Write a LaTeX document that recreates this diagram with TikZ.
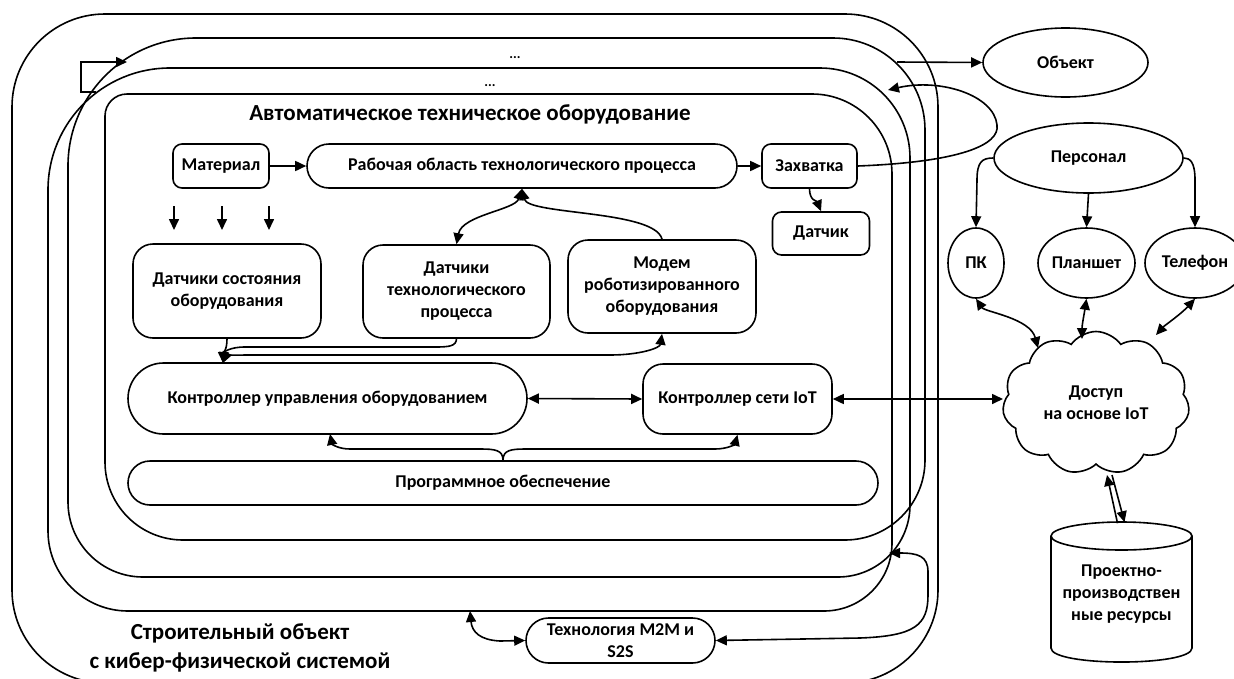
\documentclass[tikz,border=0pt]{standalone}
\usepackage{fontspec}
\setmainfont{Carlito}
\usetikzlibrary{arrows.meta,shapes.geometric,shapes.symbols,shapes.misc,calc}
\begin{document}
\begin{tikzpicture}[x=1pt,y=-1pt,
  line width=1.6pt,
  every node/.style={font=\bfseries\fontsize{18}{22}\selectfont, align=center},
  box/.style={draw, rounded corners=9pt, inner sep=0pt},
  bigbox/.style={draw, rounded corners=20pt, inner sep=0pt},
  pill/.style={draw, rounded rectangle, inner sep=0pt},
  ell/.style={draw, ellipse, inner sep=0pt},
  arr/.style={-{Triangle[length=11pt,width=10pt]}},
  darr/.style={{Triangle[length=11pt,width=10pt]}-{Triangle[length=11pt,width=10pt]}},
  bigtext/.style={font=\bfseries\fontsize{23}{29}\selectfont}
]
\fill[white] (0,0) rectangle (1234,678);
\useasboundingbox (0,0) rectangle (1234,678);
\clip (0,0) rectangle (1234,678);

% outer card
\draw[rounded corners=93pt] (12,14) rectangle (938,683);

% stacked cards (one self-crossing loop)
\draw[rounded corners=22pt] (498,94) -- (105,94) -- (105,317);
\draw[rounded corners=78pt] (105,317) -- (105,540) -- (515,540);
\draw[rounded corners=80pt] (515,540) -- (925,540) -- (925,289);
\draw[rounded corners=92pt] (925,289) -- (925,38) -- (496,38);
\draw[rounded corners=128pt] (496,38) -- (68,38) -- (68,307);
\draw[rounded corners=75pt] (68,307) -- (68,577) -- (489,577);
\draw[rounded corners=72pt] (489,577) -- (910,577) -- (910,322);
\draw[rounded corners=90pt] (910,322) -- (910,68) -- (479,68);
\draw[rounded corners=122pt] (479,68) -- (48,68) -- (48,340);
\draw[rounded corners=80pt] (48,340) -- (48,611) -- (470,611);
\draw[rounded corners=68pt] (470,611) -- (892,611) -- (892,352);
\draw[rounded corners=80pt] (892,352) -- (892,94) -- (498,94);

% texts on cards
\node[font=\bfseries\fontsize{14}{16}\selectfont] (dots1) at (515,58) {...};
\node[font=\bfseries\fontsize{14}{16}\selectfont] (dots2) at (490,86) {...};
\node[bigtext] (title) at (470,114) {Автоматическое техническое оборудование};
\node[bigtext] (site) at (240,648) {Строительный объект\\с кибер-физической системой};

% inner nodes
\node[box, minimum width=96pt, minimum height=44pt] (mat) at (221,166) {Материал};
\node[pill, minimum width=430pt, minimum height=44pt] (work) at (522,166) {Рабочая область технологического процесса};
\node[box, minimum width=95pt, minimum height=44pt] (grip) at (809.5,166) {Захватка};
\node[box, minimum width=97pt, minimum height=43pt] (sens) at (821,233.5) {Датчик};
\node[bigbox, minimum width=188pt, minimum height=94pt] (dso) at (227,291) {Датчики состояния\\оборудования};
\node[bigbox, minimum width=187pt, minimum height=93pt] (dtp) at (456.5,291.5) {Датчики\\технологического\\процесса};
\node[bigbox, minimum width=188pt, minimum height=93pt] (modem) at (662,286.5) {Модем\\роботизированного\\оборудования};
\node[pill, minimum width=399pt, minimum height=71pt] (ctrl) at (327.5,398.5) {Контроллер управления оборудованием};
\node[bigbox, minimum width=189pt, minimum height=70pt] (iot) at (737.5,399) {Контроллер сети IoT};
\node[pill, minimum width=750pt, minimum height=44pt] (soft) at (503,483) {Программное обеспечение};
\node[pill, minimum width=189pt, minimum height=45pt] (m2m) at (620.5,640.5) {Технология M2M и\\S2S};

% outside nodes
\node[ell, minimum width=165pt, minimum height=69pt] (obj) at (1065.5,62.5) {Объект};
\node[ell, minimum width=189pt, minimum height=70pt] (pers) at (1088.5,158) {Персонал};
\node[ell, minimum width=56pt, minimum height=70pt] (pk) at (976,263) {\makebox[0pt]{ПК}};
\node[ell, minimum width=97pt, minimum height=70pt] (plan) at (1086.5,263) {\makebox[0pt]{Планшет}};
\node[ell, minimum width=100pt, minimum height=70pt] (tel) at (1195,263) {\makebox[0pt]{Телефон}};
\node[draw, cloud, cloud puffs=11, cloud puff arc=110, cloud ignores aspect, minimum width=187pt, minimum height=143pt, inner sep=0pt] (cloud) at (1096,403) {Доступ\\на основе IoT};

% database cylinder: text node + outline drawn from its anchors
\node[minimum width=141pt, minimum height=140pt, inner sep=0pt] (cyl) at (1121.5,594) {Проектно-\\производствен\\ные ресурсы};
\draw ($(cyl.center)+(0,-58)$) ellipse [x radius=70.5pt, y radius=14pt];
\draw ($(cyl.center)+(-70.5,-58)$) -- ($(cyl.center)+(-70.5,54)$)
  .. controls ($(cyl.center)+(-70.5,72.7)$) and ($(cyl.center)+(70.5,72.7)$) .. ($(cyl.center)+(70.5,54)$)
  -- ($(cyl.center)+(70.5,-58)$);

% free coordinates
\coordinate (d1a) at (174,206); \coordinate (d1b) at (174,230);
\coordinate (d2a) at (222,206); \coordinate (d2b) at (222,230);
\coordinate (d3a) at (269,206); \coordinate (d3b) at (269,230);
\coordinate (ctin) at (223,363);
\coordinate (ctbot) at (330,434);
\coordinate (loopend) at (888,90);
\coordinate (objsrc) at (897,62);
\coordinate (brs) at (96,92);
\coordinate (bre) at (127,62);
\coordinate (m2mL) at (470,611);
\coordinate (m2mR) at (889,553);

% connectors
\draw[arr] (mat) -- (work);
\draw[arr] (work) -- (grip);
\draw[arr] (grip.south) .. controls +(0,12) and +(-4,-10) .. (sens.north);
\draw[arr] (d1a) -- (d1b);
\draw[arr] (d2a) -- (d2b);
\draw[arr] (d3a) -- (d3b);
\draw[darr] (dtp.north) .. controls (462,215) and (515,210) .. (work.south);
\draw[arr] (modem.north) .. controls (655,210) and (528,215) .. (work.south);
\draw[arr] (dso.south) .. controls +(0,12) and +(0,-10) .. (ctin);
\draw[arr] (dtp.south) .. controls (456,346) and (450,347) .. (435,347) -- (245,347) .. controls (230,347) and (224,352) .. (ctin);
\draw[darr] (ctin) .. controls (226,356) and (232,355) .. (250,355) -- (610,355) .. controls (640,355) and (660,348) .. (modem.south);
\draw[darr] (ctrl.east) -- (iot.west);
\draw[arr] (soft.north) .. controls (503,450) and (495,449) .. (480,449) -- (350,449) .. controls (338,449) and (332,444) .. (ctbot);
\draw[arr] (soft.north) .. controls (503,450) and (511,449) .. (526,449) -- (715,449) .. controls (728,449) and (735,444) .. (iot.south);
\draw[darr] (iot.east) -- (cloud.west |- iot.east);
\draw[arr] (grip.east) .. controls (960,162) and (1000,145) .. (997,125) .. controls (994,95) and (940,78) .. (loopend);
\draw[arr] (objsrc) -- (obj.west);
\draw[arr] (brs) -- (81,92) -- (81,62) -- (bre);
\draw[arr] (pers.west) .. controls (982,158) and (977,162) .. (977,180) -- (pk.north);
\draw[arr] (pers.south) -- (plan.north);
\draw[arr] (pers.east) .. controls (1190,158) and (1195,162) .. (1195,180) -- (tel.north);
\draw[darr] (pk.south) .. controls (985,312) and (1030,318) .. ($(cloud.center)+(-58,-55)$);
\draw[darr] (plan.south) .. controls (1084,315) and (1082,325) .. ($(cloud.center)+(-14,-64)$);
\draw[darr] (tel.south) .. controls (1180,315) and (1165,325) .. ($(cloud.center)+(60,-68)$);
\draw[arr] ($(cloud.center)+(16,72)$) -- ($(cyl.north)+(3,-1)$);
\draw[arr] ($(cyl.north)+(-4,0)$) -- ($(cloud.center)+(11,72)$);
\draw[darr] (m2mL) .. controls (472,632) and (480,640) .. (500,641) -- (m2m.west);
\draw[darr] (m2m.east) -- (860,638) .. controls (915,636) and (928,625) .. (928,595) -- (928,572) .. controls (928,556) and (918,553) .. (m2mR);
\end{tikzpicture}
\end{document}
